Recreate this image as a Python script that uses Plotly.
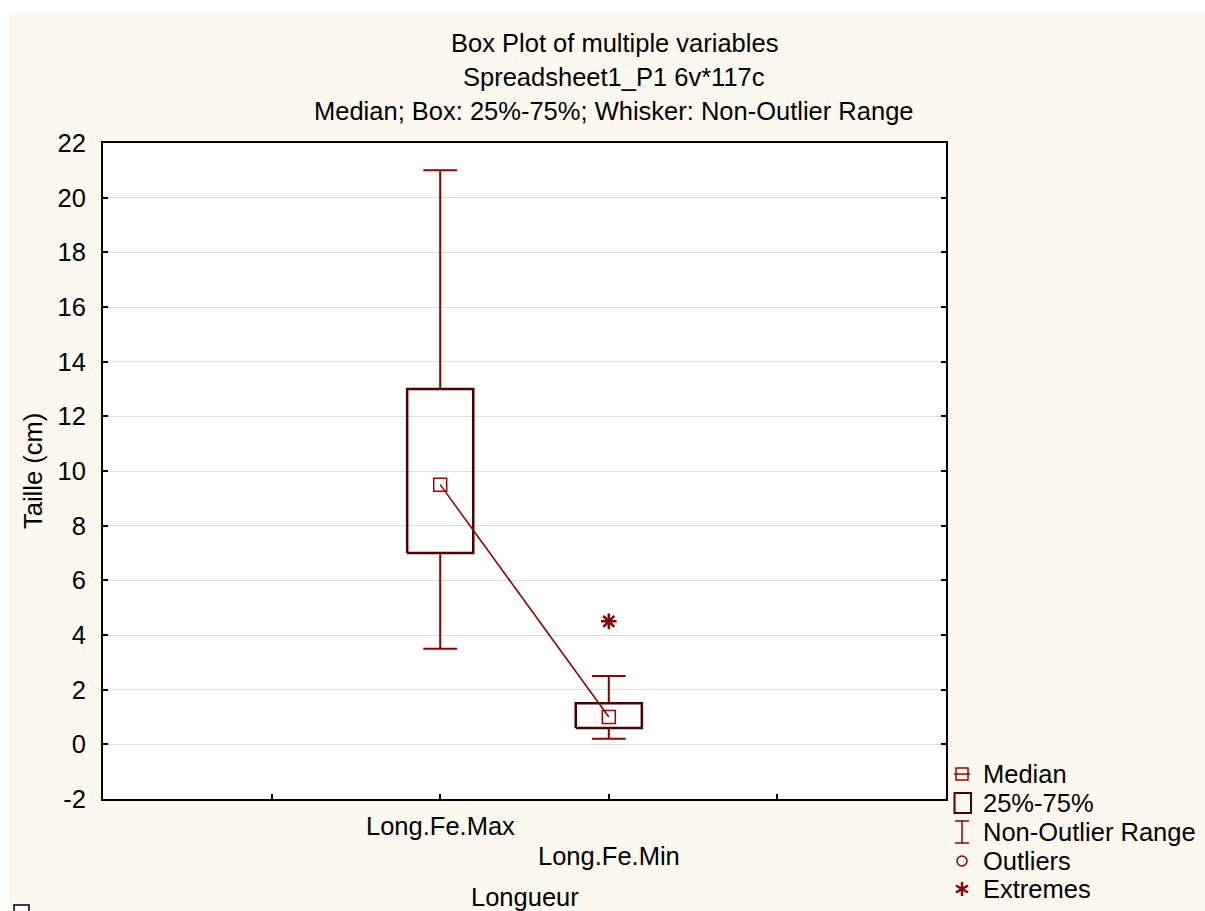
import math
import plotly.graph_objects as go

# ---------------- data ----------------
categories = ["Long.Fe.Max", "Long.Fe.Min"]
positions = [1, 2]
medians = [9.5, 1.0]
q1 = [7.0, 0.6]
q3 = [13.0, 1.5]
whisker_low = [3.5, 0.2]
whisker_high = [21.0, 2.5]
extremes_x = [2]
extremes_y = [4.5]
y_ticks = list(range(-2, 23, 2))
y_ticktext = [str(v) for v in y_ticks]

legend_labels = ["Median", "25%-75%", "Non-Outlier Range", "Outliers", "Extremes"]

# ---------------- styling ----------------
PW, PH = 1205, 911          # screenshot size
W, H = PW, PH
# plot area in screenshot pixels
L, R, T, B = 103, 946, 143, 799
CREAM = "#fdf9ef"
BOX_C = "#4a0000"
WH_C = "#8b0000"
FONT = "Liberation Sans, Arial, sans-serif"
FS = 25.5

def px(x):
    return (x - L) / (R - L)

def py(y):
    return (B - y) / (B - T)

box_half = 0.196
cap_half = 0.1

fig = go.Figure()

# whiskers
wx, wy = [], []
for p, lo, hi, a, b in zip(positions, whisker_low, whisker_high, q1, q3):
    wx += [p, p, None, p, p, None, p - cap_half, p + cap_half, None, p - cap_half, p + cap_half, None]
    wy += [hi, b, None, a, lo, None, hi, hi, None, lo, lo, None]
fig.add_trace(go.Scatter(x=wx, y=wy, mode="lines", line=dict(color=WH_C, width=2),
                         hoverinfo="skip", showlegend=False))

# boxes
bx, by = [], []
for p, a, b in zip(positions, q1, q3):
    bx += [p - box_half, p + box_half, p + box_half, p - box_half, p - box_half, None]
    by += [a, a, b, b, a, None]
fig.add_trace(go.Scatter(x=bx, y=by, mode="lines", line=dict(color=BOX_C, width=2.5),
                         hoverinfo="skip", showlegend=False))

# median line + markers
fig.add_trace(go.Scatter(x=positions, y=medians, mode="lines+markers",
                         line=dict(color=WH_C, width=1.5),
                         marker=dict(symbol="square-open", size=13, color="#a00000",
                                     line=dict(width=1.5)),
                         showlegend=False))

# extremes
fig.add_trace(go.Scatter(x=extremes_x, y=extremes_y, mode="markers",
                         marker=dict(symbol="asterisk-open", size=13, color=WH_C,
                                     line=dict(width=2.5, color=WH_C)),
                         showlegend=False))

shapes = []
# cream page background and white plot area
shapes.append(dict(type="rect", xref="paper", yref="paper", layer="below",
                   x0=px(9), x1=px(PW + 5), y0=py(PH + 5), y1=py(12),
                   fillcolor=CREAM, line=dict(width=0)))
shapes.append(dict(type="rect", xref="paper", yref="paper", layer="below",
                   x0=0, x1=1, y0=0, y1=1, fillcolor="white", line=dict(width=0)))
# small artifact square bottom-left
shapes.append(dict(type="rect", xref="paper", yref="paper",
                   x0=px(14), x1=px(29), y0=py(915), y1=py(905),
                   fillcolor="white", line=dict(color="black", width=1.5)))

# legend symbols
LX = 962
ly = [774, 803, 832, 861, 889]
shapes.append(dict(type="rect", xref="paper", yref="paper",
                   x0=px(LX - 6), x1=px(LX + 6), y0=py(ly[0] + 6), y1=py(ly[0] - 6),
                   line=dict(color="#a00000", width=1.5)))
shapes.append(dict(type="line", xref="paper", yref="paper",
                   x0=px(LX - 8), x1=px(LX + 8), y0=py(ly[0]), y1=py(ly[0]),
                   line=dict(color="#a00000", width=1.5)))
shapes.append(dict(type="rect", xref="paper", yref="paper",
                   x0=px(LX - 7.5), x1=px(LX + 9), y0=py(ly[1] + 10), y1=py(ly[1] - 10),
                   line=dict(color=BOX_C, width=2)))
shapes.append(dict(type="line", xref="paper", yref="paper",
                   x0=px(LX), x1=px(LX), y0=py(ly[2] + 11), y1=py(ly[2] - 11),
                   line=dict(color=WH_C, width=1.5)))
for yy in (ly[2] - 11, ly[2] + 11):
    shapes.append(dict(type="line", xref="paper", yref="paper",
                       x0=px(LX - 7), x1=px(LX + 7), y0=py(yy), y1=py(yy),
                       line=dict(color=WH_C, width=1.5)))
shapes.append(dict(type="circle", xref="paper", yref="paper",
                   x0=px(LX - 5), x1=px(LX + 5), y0=py(ly[3] + 5), y1=py(ly[3] - 5),
                   line=dict(color=WH_C, width=1.5)))
for ang in (90, 30, -30):
    dx = 7 * math.cos(math.radians(ang))
    dy = 7 * math.sin(math.radians(ang))
    shapes.append(dict(type="line", xref="paper", yref="paper",
                       x0=px(LX - dx), x1=px(LX + dx), y0=py(ly[4] + dy), y1=py(ly[4] - dy),
                       line=dict(color=WH_C, width=2.5)))

annotations = []
for txt, yy in zip(["Box Plot of multiple variables", "Spreadsheet1_P1 6v*117c",
                    "Median; Box: 25%-75%; Whisker: Non-Outlier Range"], [43, 77, 111]):
    annotations.append(dict(text=txt, xref="paper", yref="paper", x=px(614), y=py(yy),
                            xanchor="center", yanchor="middle", showarrow=False,
                            font=dict(size=FS, color="black", family=FONT)))
for cat, p, yy in zip(categories, positions, [826, 856]):
    annotations.append(dict(text=cat, xref="x", yref="paper", x=p, y=py(yy),
                            xanchor="center", yanchor="middle", showarrow=False,
                            font=dict(size=FS, color="black", family=FONT)))
annotations.append(dict(text="Longueur", xref="paper", yref="paper", x=0.5, y=py(897),
                        xanchor="center", yanchor="middle", showarrow=False,
                        font=dict(size=FS, color="black", family=FONT)))
annotations.append(dict(text="Taille (cm)", xref="paper", yref="paper", x=px(33), y=py(471),
                        xanchor="center", yanchor="middle", showarrow=False, textangle=-90,
                        font=dict(size=FS, color="black", family=FONT)))
for lab, yy in zip(legend_labels, ly):
    annotations.append(dict(text=lab, xref="paper", yref="paper", x=px(981), y=py(yy),
                            xanchor="left", yanchor="middle", showarrow=False,
                            font=dict(size=FS, color="black", family=FONT)))

fig.update_layout(
    width=W, height=H,
    margin=dict(l=L, r=PW - R, t=T, b=PH - B, pad=0),
    paper_bgcolor="white", plot_bgcolor="rgba(0,0,0,0)",
    font=dict(family=FONT, size=FS, color="black"),
    showlegend=False,
    shapes=shapes, annotations=annotations,
    xaxis=dict(range=[-1, 4], tickvals=[0, 1, 2, 3], showticklabels=False,
               ticks="inside", ticklen=5, tickcolor="black", tickwidth=1.5,
               showgrid=False, zeroline=False, showline=True, linecolor="black",
               linewidth=2, mirror=True),
    yaxis=dict(range=[-2, 22], tickvals=y_ticks, ticktext=y_ticktext, ticks="inside",
               ticklen=5, tickcolor="black", tickwidth=1.5, showgrid=True,
               gridcolor="#dedede", gridwidth=1, zeroline=False, showline=True,
               linecolor="black", linewidth=2, mirror="ticks", ticklabelstandoff=10,
               tickfont=dict(size=FS, color="black", family=FONT)),
)

fig.write_html("out.html", config={"displayModeBar": False},
               post_script="document.body.style.margin='0';document.body.style.overflow='hidden';")
